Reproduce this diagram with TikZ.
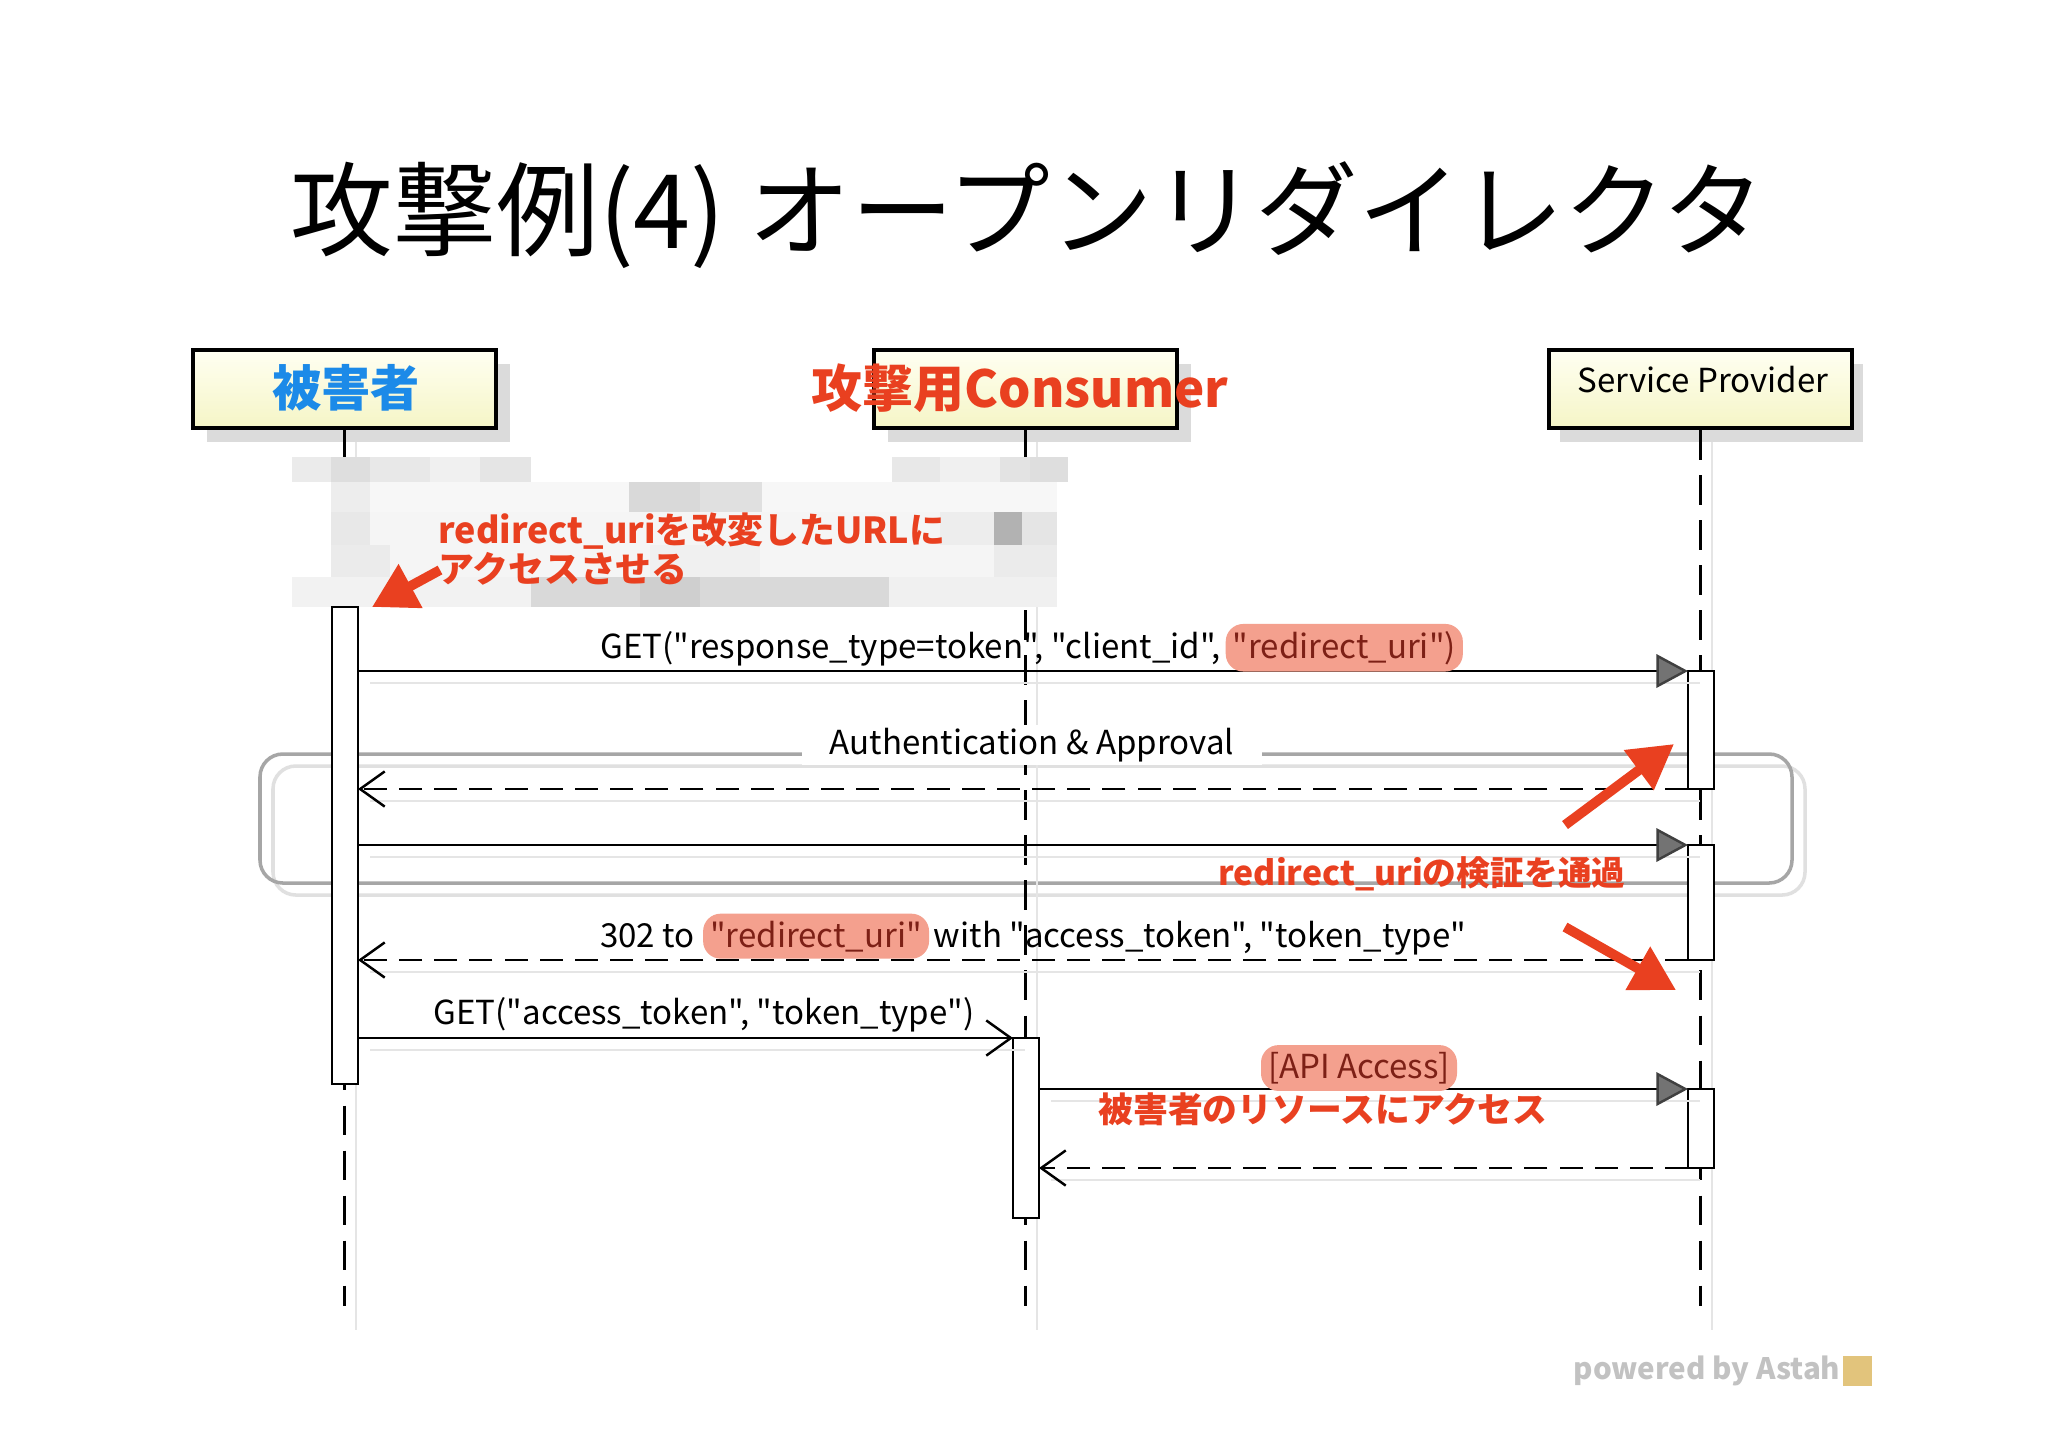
\documentclass[tikz,border=0pt]{standalone}
\usepackage{fontspec}
\setmainfont{Noto Sans CJK JP}
\newfontfamily\diagfont{Noto Sans CJK JP}
\usetikzlibrary{arrows.meta,calc,positioning}
\definecolor{annored}{RGB}{233,64,32}
\definecolor{victimblue}{RGB}{28,138,232}
\definecolor{pillred}{RGB}{244,160,142}
\definecolor{pilltext}{RGB}{125,32,22}
\definecolor{boxtop}{RGB}{255,255,242}
\definecolor{boxbottom}{RGB}{245,245,198}
\definecolor{astahgold}{RGB}{226,196,124}

\begin{document}
\begin{tikzpicture}[x=0.01cm,y=-0.01cm,
 lifebox/.style={draw=black,line width=1.3pt,top color=boxtop,bottom color=boxbottom,
 minimum width=3.03cm,minimum height=0.78cm,inner sep=0pt},
 lifeline/.style={black,line width=0.7pt,dash pattern=on 8.5pt off 4.3pt},
 actbar/.style={draw=black,line width=0.7pt,fill=white},
 msg/.style={line width=0.7pt,-{Triangle[length=9pt,width=9.5pt,fill=black!55,color=black!75]}},
 call/.style={line width=0.7pt,-{Straight Barb[length=7pt,width=10pt]}},
 reply/.style={line width=0.7pt,dash pattern=on 6.5pt off 3.5pt,-{Straight Barb[length=7pt,width=10pt]}},
 msgtext/.style={font=\diagfont\fontsize{9.4}{11}\selectfont,inner sep=1pt},
 pill/.style={msgtext,fill=pillred,text=pilltext,rounded corners=5pt,inner xsep=2pt,inner ysep=2pt},
 annotext/.style={text=annored,align=left},
 keyarrow/.style={annored,line width=2.8pt,-{Triangle[length=12.5pt,width=13.5pt]}}]
\fill[white] (0,0) rectangle (2048,1447);
\useasboundingbox (0,0) rectangle (2048,1447);

% title
\node[font=\fontsize{29.2}{34}\selectfont] (title) at (1028,215) {攻撃例(4) オープンリダイレクタ};

% combined fragment
\draw[black!12,line width=1pt,rounded corners=6.5pt] (273,766) rectangle (1805,895);
\draw[black!35,line width=1pt,rounded corners=6.5pt] (260,754) rectangle (1792,883);

% shadows of boxes and lifelines
\foreach \x in {193,874,1546}
 \fill[black!14] (\x+14,364) rectangle (\x+317,442);
\foreach \x in {356,1037,1712}
 \draw[black!10,line width=0.8pt] (\x,442) -- (\x,1330);

% lifelines
\node[lifebox] (client) at (344.5,389) {};
\node[lifebox] (consumer) at (1025.5,389) {};
\node[lifebox] (provider) at (1700.5,389) {};
\coordinate (clientEnd) at (client.south |- 0,1306);
\coordinate (consumerEnd) at (consumer.south |- 0,1306);
\coordinate (providerEnd) at (provider.south |- 0,1306);
\draw[lifeline] (client.south) -- (clientEnd);
\draw[lifeline] (consumer.south) -- (consumerEnd);
\draw[lifeline] (provider.south) -- (providerEnd);
\node[font=\diagfont\fontsize{9.4}{11}\selectfont] (providerName) at (1703,380) {Service Provider};

% mosaic
\foreach \xa/\xb/\ya/\yb/\g in {292/331/457/482/8,331/370/457/482/13,370/430/457/482/9,430/480/457/482/6,480/531/457/482/10,
 892/940/457/482/9,940/1000/457/482/6,1000/1030/457/482/11,1030/1068/457/482/13,
 331/1057/482/512/3,629/700/482/512/15,700/762/482/512/12,331/370/482/512/7,
 331/1057/512/545/4,331/370/512/545/9,940/994/512/545/7,994/1022/512/545/30,1022/1057/512/545/10,
 331/1057/545/577/4,331/390/545/577/8,650/760/545/577/6,994/1057/545/577/8,
 292/531/577/607/5,531/889/577/607/15,640/700/577/607/19,889/1057/577/607/6}
 \fill[black!\g] (\xa,\ya) rectangle (\xb,\yb);

% activations
\draw[actbar] (332,607) rectangle (358,1084);
\draw[actbar] (1013,1038) rectangle (1039,1218);
\draw[actbar] (1688,671) rectangle (1714,789);
\draw[actbar] (1688,845) rectangle (1714,960);
\draw[actbar] (1688,1089) rectangle (1714,1168);

% messages
\coordinate (reqA) at (358,671); \coordinate (reqB) at (1688,671);
\coordinate (authA) at (1688,789); \coordinate (authB) at (358,789);
\coordinate (grantA) at (358,845); \coordinate (grantB) at (1688,845);
\coordinate (redirA) at (1688,960); \coordinate (redirB) at (358,960);
\coordinate (fetchA) at (358,1038); \coordinate (fetchB) at (1013,1038);
\coordinate (apiA) at (1039,1089); \coordinate (apiB) at (1688,1089);
\coordinate (dataA) at (1688,1168); \coordinate (dataB) at (1039,1168);
\foreach \p/\q in {reqA/reqB,authA/authB,grantA/grantB,redirA/redirB,fetchA/fetchB,apiA/apiB,dataA/dataB}
 \draw[black!10,line width=0.8pt] ([shift={(12,12)}]\p) -- ([shift={(12,12)}]\q);
\draw[msg] (reqA) -- (reqB);
\draw[reply] (authA) -- (authB);
\draw[msg] (grantA) -- (grantB);
\draw[reply] (redirA) -- (redirB);
\draw[call] (fetchA) -- (fetchB);
\draw[msg] (apiA) -- (apiB);
\draw[reply] (dataA) -- (dataB);

% message labels
\node[msgtext,anchor=base west] (reqText) at (596,658) {GET("response\_type=token", "client\_id",};
\node[pill,base right=0pt of reqText] (reqPill) {"redirect\_uri")};
\node[msgtext,fill=white,inner xsep=8pt] (authText) at (1032,745) {Authentication \& Approval};
\node[msgtext,anchor=base west] (redirText) at (596,947) {302 to};
\node[pill,base right=1pt of redirText] (redirPill) {"redirect\_uri"};
\node[msgtext,base right=0pt of redirPill] (redirRest) {with "access\_token", "token\_type"};
\node[msgtext] (fetchText) at (704,1015) {GET("access\_token", "token\_type")};
\node[pill] (apiPill) at (1359,1068) {[API Access]};

% annotations
\node[font=\bfseries\fontsize{14}{16}\selectfont,text=victimblue] (victim) at (346,388) {被害者};
\node[font=\bfseries\fontsize{14.5}{16}\selectfont,text=annored] (attacker) at (1020,388) {攻撃用Consumer};
\node[annotext,font=\bfseries\fontsize{10.2}{11}\selectfont,anchor=west] (hintText) at (426,549) {redirect\_uriを改変したURLに\\アクセスさせる};
\node[annotext,font=\bfseries\fontsize{9.6}{11}\selectfont] (passText) at (1422,874) {redirect\_uriの検証を通過};
\node[annotext,font=\bfseries\fontsize{9.9}{11}\selectfont] (leakText) at (1323,1109) {被害者のリソースにアクセス};
\coordinate (hintTail) at (440,570); \coordinate (hintTip) at (372,607);
\coordinate (passTail) at (1565,825); \coordinate (passTip) at (1674,744);
\coordinate (leakTail) at (1565,927); \coordinate (leakTip) at (1676,990);
\draw[keyarrow] (hintTail) -- (hintTip);
\draw[keyarrow] (passTail) -- (passTip);
\draw[keyarrow] (leakTail) -- (leakTip);

% footer
\node[font=\bfseries\fontsize{8.4}{10}\selectfont,text=black!24,anchor=east,inner sep=0pt] (powered) at (1841,1371) {powered by Astah};
\fill[astahgold] (1843,1356) rectangle (1872,1386);
\end{tikzpicture}
\end{document}
